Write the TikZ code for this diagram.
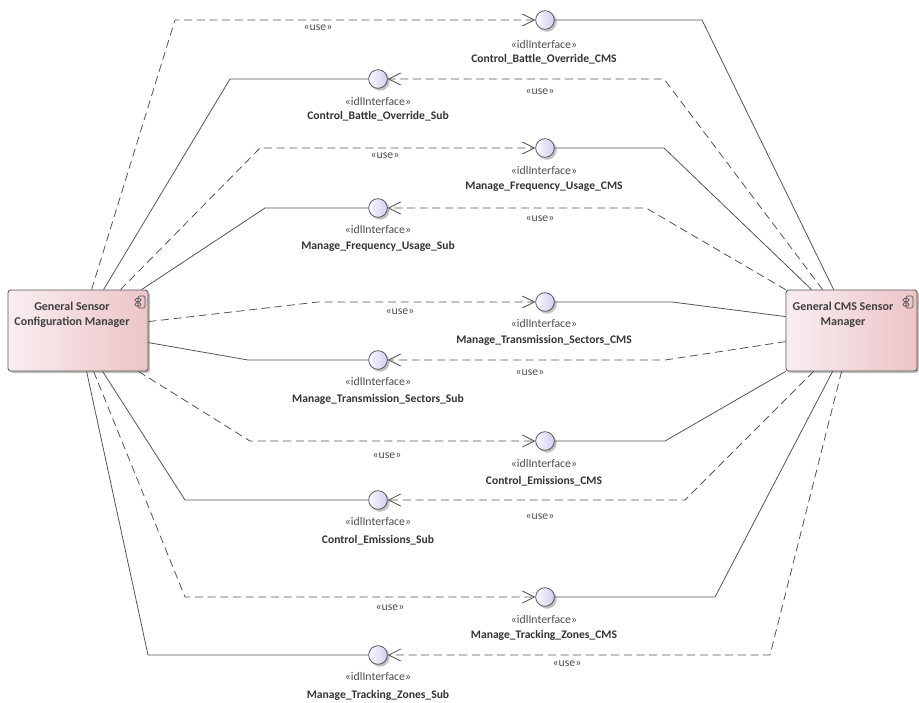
\documentclass[tikz,border=0pt]{standalone}
\usepackage{fontspec}
\setmainfont{Carlito}
\usetikzlibrary{arrows.meta,shadows,calc,positioning}

\definecolor{compL}{RGB}{249,238,240}
\definecolor{compR}{RGB}{236,196,200}
\definecolor{ifcL}{RGB}{250,249,255}
\definecolor{ifcR}{RGB}{212,204,240}
\definecolor{edgegray}{RGB}{85,85,85}

\tikzset{
  comp/.style={draw=edgegray, line width=0.6pt, rounded corners=2pt, left color=compL, right color=compR,
    inner sep=0pt, minimum height=60.75pt,
    drop shadow={shadow xshift=1.5pt, shadow yshift=-1.5pt, fill=black!25, opacity=1}},
  ifc/.style={circle, draw=edgegray, line width=0.6pt, minimum size=14pt, inner sep=0pt, left color=ifcL, right color=ifcR,
    circular drop shadow={shadow xshift=1.2pt, shadow yshift=-1.2pt, fill=black!25, opacity=1}},
  stereo/.style={font=\fontsize{8.8}{10}\selectfont, text=black!70, inner sep=0.75pt},
  ifcname/.style={font=\bfseries\fontsize{8.7}{10}\selectfont, text=black!80, inner sep=0.75pt},
  comptext/.style={font=\bfseries\fontsize{9}{11.5}\selectfont, text=black!75, align=center, inner sep=0.75pt},
  prov/.style={draw=edgegray, line width=0.6pt},
  use/.style={draw=edgegray, line width=0.6pt, dash pattern=on 6pt off 3.5pt, -{Straight Barb[length=9pt,width=9pt]}},
  uselbl/.style={font=\fontsize{8.8}{10}\selectfont, text=black!70, inner sep=0.75pt},
}

\begin{document}
\begin{tikzpicture}[x=0.75pt,y=0.75pt,yscale=-1,xscale=1]
\useasboundingbox (0,0) rectangle (919,702);

% components
\node[comp, minimum width=105pt] (gscm) at (78,330.5) {};
\node[comp, minimum width=98.25pt] (gcsm) at (851.5,330.5) {};
\node[comptext] (gscmtext) at (72,315) {General Sensor\\Configuration Manager};
\node[comptext] (gcsmtext) at (843,315) {General CMS Sensor\\Manager};
% component icons
\draw[edgegray, line width=0.5pt, rounded corners=1pt] (138,296) rectangle (145,308) (135,298.5) rectangle (141,301.5) (135,303) rectangle (141,306);
\draw[edgegray, line width=0.5pt, rounded corners=1pt] (906,296) rectangle (913,308) (903,298.5) rectangle (909,301.5) (903,303) rectangle (909,306);

% interfaces
\node[ifc] (cbocms) at (545,20) {};
\node[ifc] (cbosub) at (378,79) {};
\node[ifc] (mfucms) at (545,148) {};
\node[ifc] (mfusub) at (378,208) {};
\node[ifc] (mtscms) at (545,302) {};
\node[ifc] (mtssub) at (378,360) {};
\node[ifc] (cecms) at (545,441) {};
\node[ifc] (cesub) at (378,500) {};
\node[ifc] (mtzcms) at (545,597) {};
\node[ifc] (mtzsub) at (378,655) {};

% interface texts
\node[stereo] (cbocmsst) at (544,44) {«idlInterface»};
\node[ifcname] (cbocmsnm) at (544,59) {Control\_Battle\_Override\_CMS};
\node[stereo] (cbosubst) at (378,101) {«idlInterface»};
\node[ifcname] (cbosubnm) at (378,116) {Control\_Battle\_Override\_Sub};
\node[stereo] (mfucmsst) at (544,170) {«idlInterface»};
\node[ifcname] (mfucmsnm) at (544,187) {Manage\_Frequency\_Usage\_CMS};
\node[stereo] (mfusubst) at (378,229) {«idlInterface»};
\node[ifcname] (mfusubnm) at (378,246) {Manage\_Frequency\_Usage\_Sub};
\node[stereo] (mtscmsst) at (544,323) {«idlInterface»};
\node[ifcname] (mtscmsnm) at (544,340) {Manage\_Transmission\_Sectors\_CMS};
\node[stereo] (mtssubst) at (378,381) {«idlInterface»};
\node[ifcname] (mtssubnm) at (378,399) {Manage\_Transmission\_Sectors\_Sub};
\node[stereo] (cecmsst) at (544,463) {«idlInterface»};
\node[ifcname] (cecmsnm) at (544,481) {Control\_Emissions\_CMS};
\node[stereo] (cesubst) at (378,521) {«idlInterface»};
\node[ifcname] (cesubnm) at (378,540) {Control\_Emissions\_Sub};
\node[stereo] (mtzcmsst) at (544,619) {«idlInterface»};
\node[ifcname] (mtzcmsnm) at (544,635) {Manage\_Tracking\_Zones\_CMS};
\node[stereo] (mtzsubst) at (378,676) {«idlInterface»};
\node[ifcname] (mtzsubnm) at (378,695) {Manage\_Tracking\_Zones\_Sub};

% realisations and usages
\draw[prov] (cbocms) -- (702,20) -- ($(gcsm.north west)+(48,0)$);
\draw[use] ($(gscm.north west)+(84,0)$) -- (175,20) -- (cbocms);
\draw[prov] ($(gscm.north west)+(96,0)$) -- (230,79) -- (cbosub);
\draw[use] ($(gcsm.north west)+(37,0)$) -- (664,79) -- (cbosub);
\draw[use] ($(gscm.north west)+(113,0)$) -- (260,148) -- (mfucms);
\draw[prov] (mfucms) -- (664,148) -- ($(gcsm.north west)+(26,0)$);
\draw[prov] ($(gscm.north west)+(134,0)$) -- (265,208) -- (mfusub);
\draw[use] (gcsm.north west) -- (646,208) -- (mfusub);
\draw[use] ($(gscm.north east)+(0,32)$) -- (318,302) -- (mtscms);
\draw[prov] (mtscms) -- (672,302) -- ($(gcsm.north west)+(0,27)$);
\draw[prov] ($(gscm.north east)+(0,53)$) -- (248,360) -- (mtssub);
\draw[use] ($(gcsm.north west)+(0,52)$) -- (665,360) -- (mtssub);
\draw[use] ($(gscm.south east)+(-10,0)$) -- (250,441) -- (cecms);
\draw[prov] (cecms) -- (665,441) -- (gcsm.south west);
\draw[prov] ($(gscm.south west)+(95,0)$) -- (185,500) -- (cesub);
\draw[use] ($(gcsm.south west)+(28,0)$) -- (685,500) -- (cesub);
\draw[use] ($(gscm.south west)+(86,0)$) -- (185,597) -- (mtzcms);
\draw[prov] (mtzcms) -- (715,597) -- ($(gcsm.south west)+(47,0)$);
\draw[prov] ($(gscm.south west)+(79,0)$) -- (148,655) -- (mtzsub);
\draw[use] ($(gcsm.south west)+(56,0)$) -- (770,655) -- (mtzsub);

% use labels
\node[uselbl] (u1) at (318,28) {«use»};
\node[uselbl] (u2) at (540,92) {«use»};
\node[uselbl] (u3) at (385,156) {«use»};
\node[uselbl] (u4) at (540,219) {«use»};
\node[uselbl] (u5) at (400,312) {«use»};
\node[uselbl] (u6) at (530,373) {«use»};
\node[uselbl] (u7) at (387,456) {«use»};
\node[uselbl] (u8) at (540,517) {«use»};
\node[uselbl] (u9) at (390,608) {«use»};
\node[uselbl] (u10) at (567,664) {«use»};

\end{tikzpicture}
\end{document}
